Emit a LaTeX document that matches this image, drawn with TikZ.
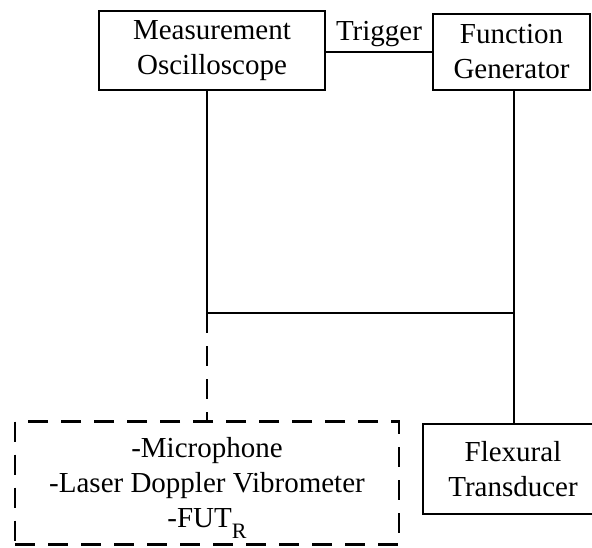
\documentclass[tikz,border=0pt]{standalone}
\usepackage{fontspec}
\setmainfont{Liberation Serif}
\tikzset{
  unit/.style={draw, line width=2.8pt, align=center, inner sep=0pt,
    font=\fontsize{29}{35}\selectfont},
  link/.style={line width=2.8pt},
  probe/.style={line width=2.8pt, dash pattern=on 20pt off 13pt}
}
\begin{document}
\begin{tikzpicture}[x=1pt, y=-1pt]
\useasboundingbox (0,0) rectangle (592,547);
\clip (0,0) rectangle (592,547);
\node[unit, minimum width=226pt, minimum height=79pt] (osc) at (212, 50.5) {Measurement\\Oscilloscope};
\node[unit, minimum width=157pt, minimum height=76pt] (fg) at (511.5, 52) {Function\\Generator};
\node[unit, probe, minimum width=384pt, minimum height=123pt] (sens) at (207, 483) {-Microphone\\-Laser Doppler Vibrometer\\-FUT\raisebox{-11pt}[0pt][0pt]{\fontsize{22}{22}\selectfont R}};
\node[unit, minimum width=180pt, minimum height=90pt] (flex) at (513, 469) {Flexural\\Transducer};
\coordinate (jn) at (207, 313);
\coordinate (jr) at (514, 313);
\draw[link] (fg.west -| osc.east) -- node[above, inner sep=4pt, font=\fontsize{29}{35}\selectfont] (trig) {Trigger} (fg.west);
\draw[link] (osc.south -| jn) -- (jn) -- (jr);
\draw[link] (fg.south -| jr) -- (jr |- flex.north);
\draw[probe] (jn) -- (jn |- sens.north);
\end{tikzpicture}
\end{document}
